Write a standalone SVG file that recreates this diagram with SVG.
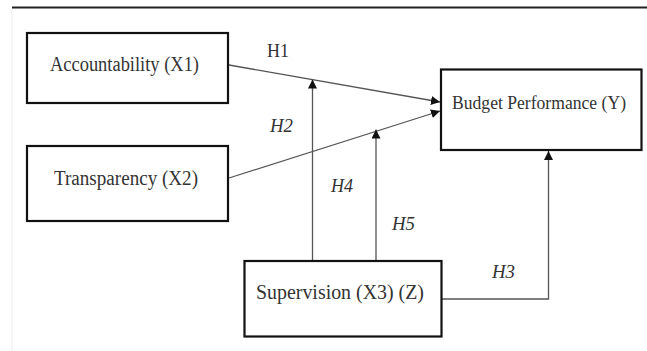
<svg xmlns="http://www.w3.org/2000/svg" width="647" height="351" viewBox="0 0 647 351">
<style>
.box{fill:#fff;stroke:#111;stroke-width:2.2}
.lbl{font-family:"Liberation Serif","DejaVu Serif",serif;font-size:20px;fill:#333}
.h{font-family:"Liberation Serif","DejaVu Serif",serif;font-size:18px;fill:#333}
.hi{font-style:italic}
.con{fill:none;stroke:#555;stroke-width:1.3}
</style>
<defs>
<marker id="arr" viewBox="0 0 10 10" refX="10" refY="5" markerWidth="9" markerHeight="9" markerUnits="userSpaceOnUse" orient="auto">
<path d="M0,0 L10,5 L0,10 Z" fill="#111"/>
</marker>
</defs>
<rect x="0" y="0" width="647" height="351" fill="#fff"/>
<line x1="12" y1="7.5" x2="647" y2="7.5" stroke="#222" stroke-width="2"/>
<line x1="12" y1="9" x2="12" y2="351" stroke="#ececec" stroke-width="1"/>
<g id="connectors">
<line class="con" x1="229" y1="65" x2="440" y2="102" marker-end="url(#arr)"/>
<line class="con" x1="229" y1="178" x2="440" y2="111" marker-end="url(#arr)"/>
<line class="con" x1="312.5" y1="260" x2="312.5" y2="79.5" marker-end="url(#arr)"/>
<line class="con" x1="376" y1="260" x2="376" y2="129.5" marker-end="url(#arr)"/>
<polyline class="con" points="442,299 548.5,299 548.5,151" marker-end="url(#arr)"/>
<text class="h" x="267" y="57" textLength="22" lengthAdjust="spacingAndGlyphs">H1</text>
<text class="h hi" x="270" y="132" textLength="23" lengthAdjust="spacingAndGlyphs">H2</text>
<text class="h hi" x="331" y="192" textLength="22" lengthAdjust="spacingAndGlyphs">H4</text>
<text class="h hi" x="392" y="230" textLength="23" lengthAdjust="spacingAndGlyphs">H5</text>
<text class="h hi" x="492" y="278" textLength="23" lengthAdjust="spacingAndGlyphs">H3</text>
</g>
<g id="accountability">
<rect class="box" x="27" y="33" width="201" height="70"/>
<text class="lbl" x="50" y="71" textLength="149" lengthAdjust="spacingAndGlyphs">Accountability (X1)</text>
</g>
<g id="transparency">
<rect class="box" x="27" y="146" width="201" height="75"/>
<text class="lbl" x="54" y="185" textLength="144" lengthAdjust="spacingAndGlyphs">Transparency (X2)</text>
</g>
<g id="budget">
<rect class="box" x="441" y="69.5" width="200.5" height="80.5"/>
<text class="lbl" x="452" y="109" style="font-size:18px" textLength="174" lengthAdjust="spacingAndGlyphs">Budget Performance (Y)</text>
</g>
<g id="supervision">
<rect class="box" x="244.5" y="261" width="197" height="75.5"/>
<text class="lbl" x="256" y="299" textLength="168" lengthAdjust="spacingAndGlyphs">Supervision (X3) (Z)</text>
</g>
</svg>
